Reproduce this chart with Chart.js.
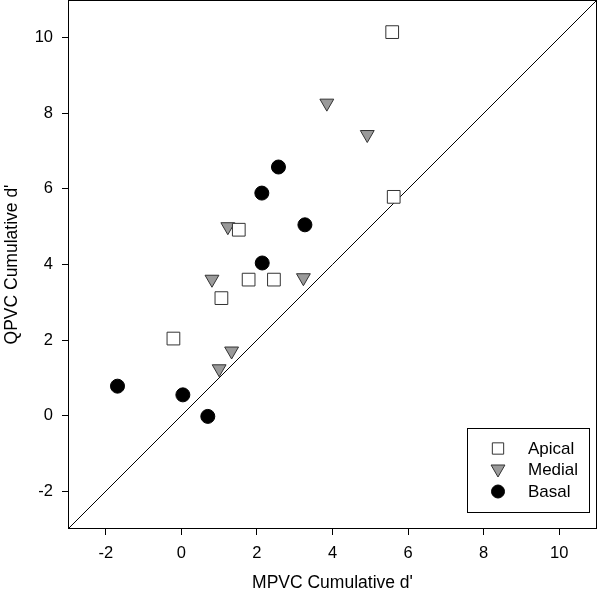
<!DOCTYPE html>
<html lang="en">
<head>
<meta charset="UTF-8">
<title>QPVC vs MPVC Cumulative d'</title>
<script src="https://cdn.jsdelivr.net/npm/chart.js"></script>
<style>
  html, body { margin: 0; padding: 0; background: #fff; }
  canvas { display: block; }
</style>
</head>
<body>
<canvas id="chart" width="600" height="593"></canvas>
<script>
// values
const apicalX = [5.58, 5.62, 1.52, 1.78, 2.45, 1.06, -0.21];
const apicalY = [10.15, 5.79, 4.92, 3.60, 3.60, 3.11, 2.04];

const medialX = [3.85, 4.92, 1.23, 0.81, 3.23, 1.33, 1.00];
const medialY = [8.27, 7.44, 5.00, 3.61, 3.65, 1.71, 1.24];

const basalX = [2.57, 2.13, 3.27, 2.14, -1.69, 0.04, 0.70];
const basalY = [6.58, 5.89, 5.05, 4.04, 0.78, 0.55, -0.02];

const identityLine = [-3, 11];
const tickValues = [-2, 0, 2, 4, 6, 8, 10];
const axisMin = -3;
const axisMax = 11;

function toPoints(xs, ys) {
    return xs.map((x, i) => ({ x: x, y: ys[i] }));
}

const FONT = 'Arial, "Liberation Sans", sans-serif';

// plot frame + legend box drawn on top of the chart
const framePlugin = {
    id: 'frame',
    afterDraw(chart) {
        const ctx = chart.ctx;
        const a = chart.chartArea;
        ctx.save();
        ctx.strokeStyle = '#000';
        ctx.lineWidth = 1;
        ctx.strokeRect(Math.round(a.left) + 0.5, Math.round(a.top) + 0.5,
                       Math.round(a.right - a.left) - 1, Math.round(a.bottom - a.top) - 1);

        // legend
        const bx = 467.5, by = 428.5, bw = 122, bh = 84;
        ctx.fillStyle = '#fff';
        ctx.fillRect(bx, by, bw, bh);
        ctx.strokeRect(bx, by, bw, bh);
        ctx.font = '17px ' + FONT;
        ctx.textBaseline = 'middle';
        const rows = [448.5, 469, 491.5];
        const legendRadius = [8, 8, 6.5];
        chart.data.datasets.slice(0, 3).forEach((ds, i) => {
            ctx.fillStyle = ds.backgroundColor;
            ctx.strokeStyle = ds.borderColor;
            ctx.lineWidth = ds.borderWidth;
            Chart.helpers.drawPoint(ctx, {
                pointStyle: ds.pointStyle,
                rotation: ds.rotation || 0,
                radius: legendRadius[i],
                borderWidth: ds.borderWidth
            }, 498, rows[i]);
            ctx.fillStyle = '#000';
            ctx.fillText(ds.label, 528, rows[i] + 1);
        });
        ctx.restore();
    }
};

function fixedTicks(scale) {
    scale.ticks = tickValues.map(v => ({ value: v }));
}

function noEdgePadding(scale) {
    scale.paddingTop = 0;
    scale.paddingBottom = 0;
    scale.paddingLeft = 0;
    scale.paddingRight = 0;
}

new Chart(document.getElementById('chart'), {
    type: 'scatter',
    data: {
        datasets: [
            {
                label: 'Apical',
                data: toPoints(apicalX, apicalY),
                pointStyle: 'rect',
                pointRadius: 9,
                backgroundColor: '#ffffff',
                borderColor: '#333333',
                borderWidth: 1
            },
            {
                label: 'Medial',
                data: toPoints(medialX, medialY),
                pointStyle: 'triangle',
                rotation: 180,
                pointRadius: 8,
                backgroundColor: '#9a9a9a',
                borderColor: '#333333',
                borderWidth: 1
            },
            {
                label: 'Basal',
                data: toPoints(basalX, basalY),
                pointStyle: 'circle',
                pointRadius: 7,
                backgroundColor: '#000000',
                borderColor: '#000000',
                borderWidth: 1
            },
            {
                label: 'y = x',
                type: 'line',
                data: toPoints(identityLine, identityLine),
                showLine: true,
                pointRadius: 0,
                borderColor: '#000000',
                borderWidth: 1,
                fill: false
            }
        ]
    },
    options: {
        responsive: false,
        animation: false,
        devicePixelRatio: 1,
        layout: { autoPadding: false, padding: { top: 0, right: 3, left: 0, bottom: 0 } },
        plugins: {
            legend: { display: false },
            tooltip: { enabled: false }
        },
        scales: {
            x: {
                type: 'linear',
                min: axisMin,
                max: axisMax,
                afterBuildTicks: fixedTicks,
                afterFit(scale) { scale.height = 64; noEdgePadding(scale); },
                border: { display: false },
                grid: { drawOnChartArea: false, drawTicks: true, tickLength: 6, color: '#000' },
                ticks: { color: '#000', padding: 9, font: { family: FONT, size: 16.5 }, maxRotation: 0 },
                title: { display: true, text: "MPVC Cumulative d'", color: '#000',
                         font: { family: FONT, size: 17.5 }, padding: { top: 0, bottom: -1 } }
            },
            y: {
                type: 'linear',
                min: axisMin,
                max: axisMax,
                afterBuildTicks: fixedTicks,
                afterFit(scale) { scale.width = 68; noEdgePadding(scale); },
                border: { display: false },
                grid: { drawOnChartArea: false, drawTicks: true, tickLength: 6, color: '#000' },
                ticks: { color: '#000', padding: 9, font: { family: FONT, size: 16.5 } },
                title: { display: true, text: "QPVC Cumulative d'", color: '#000',
                         font: { family: FONT, size: 17.5 }, padding: { top: 2, bottom: 0 } }
            }
        }
    },
    plugins: [framePlugin]
});
</script>
</body>
</html>
